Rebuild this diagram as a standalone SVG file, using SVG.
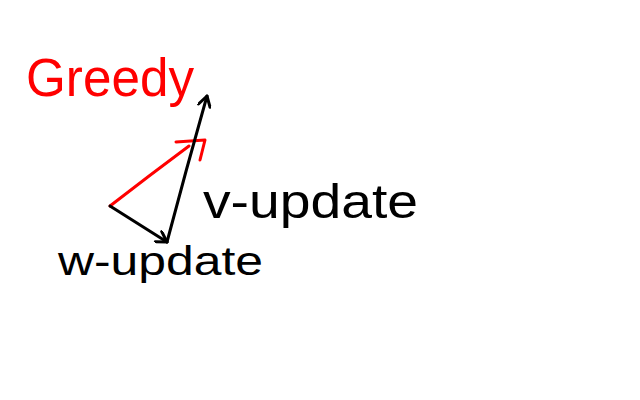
<svg xmlns="http://www.w3.org/2000/svg" width="640" height="400" viewBox="0 0 640 400">
  <defs>
    <style>
      .ln { fill: none; stroke-width: 3; stroke-linecap: round; stroke-linejoin: round; }
      .blk { stroke: #000; }
      .red { stroke: #ff0000; }
      .lbl { font-family: "Liberation Sans", Arial, sans-serif; }
    </style>
    <marker id="openArrow" viewBox="0 0 14 14" refX="12" refY="7" markerWidth="14" markerHeight="14" markerUnits="userSpaceOnUse" orient="auto">
      <path d="M2,1 L12,7 L2,13" fill="none" stroke="#000" stroke-width="3" stroke-linecap="round" stroke-linejoin="round"/>
    </marker>
  </defs>
  <rect width="640" height="400" fill="#fff"/>

  <g id="connectors">
    <path id="greedy-edge" class="ln red" d="M110,206 Q150,175 189,146"/>
    <path class="ln red" d="M176,142 L205,140 L200,160"/>
    <path id="w-update-edge" class="ln blk" d="M110,206 L167,242" marker-end="url(#openArrow)"/>
    <path id="v-update-edge" class="ln blk" d="M167,242 Q186,170 207,96" marker-end="url(#openArrow)"/>
  </g>

  <g id="greedy-label">
    <text class="lbl" x="26" y="96" font-size="54" fill="#ff0000" textLength="168" lengthAdjust="spacingAndGlyphs">Greedy</text>
  </g>
  <g id="v-update-label">
    <text class="lbl" x="203" y="218" font-size="48" fill="#000" textLength="215" lengthAdjust="spacingAndGlyphs">v-update</text>
  </g>
  <g id="w-update-label">
    <text class="lbl" x="58" y="275" font-size="40" fill="#000" textLength="205" lengthAdjust="spacingAndGlyphs">w-update</text>
  </g>
</svg>
